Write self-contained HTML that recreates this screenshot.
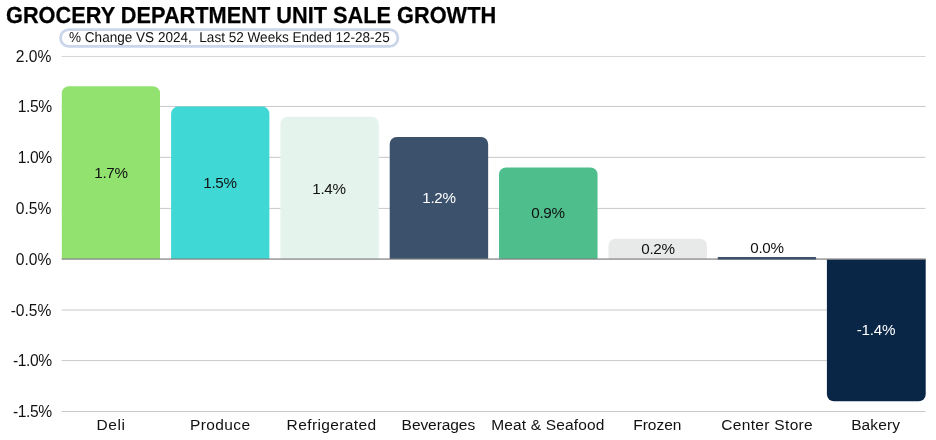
<!DOCTYPE html>
<html><head><meta charset="utf-8">
<style>
html,body{margin:0;padding:0;background:#fff;}
body{width:936px;height:440px;position:relative;overflow:hidden;font-family:"Liberation Sans",sans-serif;color:#111;}
.title{position:absolute;left:6.3px;top:2px;font-size:23.2px;font-weight:bold;line-height:26px;white-space:nowrap;color:#000;transform-origin:0 0;transform:scaleX(0.9379);-webkit-text-stroke:0.25px #000;text-rendering:geometricPrecision;}
.pill{position:absolute;left:61.3px;top:30.6px;width:336px;height:14.8px;z-index:5;}
.pill span{position:absolute;left:7.5px;top:-0.8px;font-size:14.25px;line-height:16px;white-space:pre;color:#111;transform-origin:0 50%;transform:scaleX(0.951);text-rendering:geometricPrecision;}
.yl{position:absolute;left:0;width:51.4px;text-align:right;font-size:15.6px;line-height:18px;white-space:nowrap;}
.v{position:absolute;width:98px;text-align:center;letter-spacing:-0.25px;font-size:15.2px;line-height:16px;z-index:4;white-space:nowrap;}
.xl{position:absolute;font-size:15.5px;line-height:18px;top:416px;white-space:nowrap;}
</style></head><body>
<div class="title">GROCERY DEPARTMENT UNIT SALE GROWTH</div>
<div class="pill"><span>% Change VS 2024,  Last 52 Weeks Ended 12-28-25</span></div>

<svg style="position:absolute;left:0;top:0" width="936" height="440" viewBox="0 0 936 440">
<rect x="61.6" y="55.95" width="863.9" height="1" fill="#d4d4d4"/>
<rect x="61.6" y="106.00" width="863.9" height="1" fill="#c9c9c9"/>
<rect x="61.6" y="156.85" width="863.9" height="1" fill="#c9c9c9"/>
<rect x="61.6" y="207.90" width="863.9" height="1" fill="#c9c9c9"/>
<rect x="61.6" y="309.50" width="863.9" height="1" fill="#c9c9c9"/>
<rect x="61.6" y="360.10" width="863.9" height="1" fill="#c9c9c9"/>
<rect x="61.6" y="411.00" width="863.9" height="1" fill="#c9c9c9"/>
<path d="M61.80 259.00V93.32A7 7 0 0 1 68.80 86.32H153.00A7 7 0 0 1 160.00 93.32V259.00Z" fill="#92e26f"/>
<path d="M171.10 259.00V113.60A7 7 0 0 1 178.10 106.60H262.38A7 7 0 0 1 269.38 113.60V259.00Z" fill="#40d8d4"/>
<path d="M280.40 259.00V123.74A7 7 0 0 1 287.40 116.74H371.77A7 7 0 0 1 378.77 123.74V259.00Z" fill="#e4f3ec"/>
<path d="M389.70 259.00V144.02A7 7 0 0 1 396.70 137.02H481.15A7 7 0 0 1 488.15 144.02V259.00Z" fill="#3c526c"/>
<path d="M499.00 259.00V174.44A7 7 0 0 1 506.00 167.44H590.54A7 7 0 0 1 597.54 174.44V259.00Z" fill="#4ebe8c"/>
<path d="M608.45 259.00V245.75A7 7 0 0 1 615.45 238.75H699.92A7 7 0 0 1 706.92 245.75V259.00Z" fill="#e8eae9"/>
<path d="M826.90 259.20V394.36A7 7 0 0 0 833.90 401.36H918.70A7 7 0 0 0 925.70 394.36V259.20Z" fill="#0a2647"/>
<rect x="61.6" y="258.45" width="864.1" height="1.25" fill="#828282"/>
<rect x="717.60" y="257.1" width="98.6" height="2.4" rx="1" fill="#3c526c"/>
<rect x="60.5" y="29.6" width="337.4" height="16.8" rx="8.4" fill="#fff" stroke="#ccd6eb" stroke-width="2.8"/>
</svg>
<div class="yl" style="top:48px">2.0%</div>
<div class="yl" style="top:98px;letter-spacing:-0.4px;margin-left:0.4px">1.5%</div>
<div class="yl" style="top:149px;letter-spacing:-0.4px;margin-left:0.4px">1.0%</div>
<div class="yl" style="top:200px">0.5%</div>
<div class="yl" style="top:251px">0.0%</div>
<div class="yl" style="top:302px">-0.5%</div>
<div class="yl" style="top:352px;letter-spacing:-0.4px;margin-left:0.4px">-1.0%</div>
<div class="yl" style="top:403px;letter-spacing:-0.4px;margin-left:0.4px">-1.5%</div>


<div class="v" style="left:62px;top:165px">1.7%</div>
<div class="v" style="left:171px;top:175px">1.5%</div>
<div class="v" style="left:280px;top:181px">1.4%</div>
<div class="v" style="left:390px;top:190px;color:#fff">1.2%</div>
<div class="v" style="left:499px;top:205px">0.9%</div>
<div class="v" style="left:609px;top:241px">0.2%</div>
<div class="v" style="left:718px;top:240px">0.0%</div>
<div class="v" style="left:827px;top:322px;color:#fff">-1.4%</div>

<div class="xl" style="left:96.5px;letter-spacing:0.6px">Deli</div>
<div class="xl" style="left:189.9px;letter-spacing:0.4px">Produce</div>
<div class="xl" style="left:286.62px;letter-spacing:0.388px">Refrigerated</div>
<div class="xl" style="left:401.62px;letter-spacing:-0.068px">Beverages</div>
<div class="xl" style="left:491.18px;letter-spacing:0.162px">Meat &amp; Seafood</div>
<div class="xl" style="left:633.20px;letter-spacing:-0.015px">Frozen</div>
<div class="xl" style="left:721.21px;letter-spacing:0.330px">Center Store</div>
<div class="xl" style="left:851.15px;letter-spacing:0.110px">Bakery</div>
</body></html>
